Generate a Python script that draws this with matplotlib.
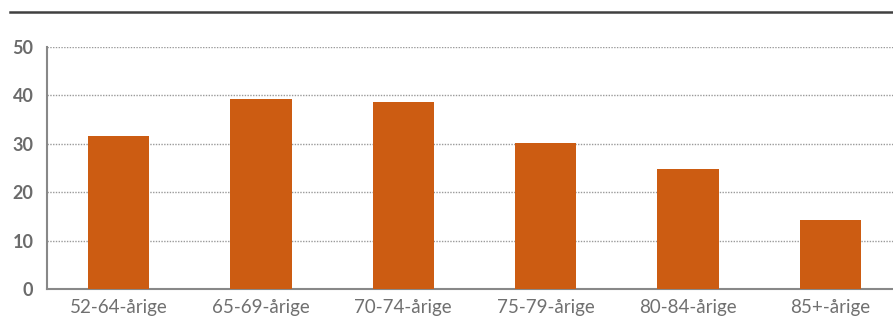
import matplotlib.pyplot as plt
from matplotlib.lines import Line2D
import numpy as np

categories = ['52-64-årige', '65-69-årige', '70-74-årige', '75-79-årige', '80-84-årige', '85+-årige']
values = [31.6, 39.3, 38.6, 30.2, 24.8, 14.3]
yticks = [0, 10, 20, 30, 40, 50]

plt.rcParams['font.family'] = ['Lato', 'DejaVu Sans']

fig = plt.figure(figsize=(8.93, 3.22), dpi=100)
W, H = 893, 322
# axes right edge runs slightly past the figure, as in the original
ax = fig.add_axes([47.3 / W, (H - 289) / H, 854.4 / W, 242 / H])

x = np.arange(len(categories))
ax.bar(x, values, width=0.43, color='#cc5c12', zorder=3)

ax.set_xlim(-0.5, len(categories) - 0.5)
ax.set_ylim(0, 50)
ax.set_yticks(yticks)
ax.set_yticklabels([str(t) for t in yticks], fontsize=13, fontweight='bold', color='#6b6b6b')
ax.set_xticks(x)
ax.set_xticklabels(categories, fontsize=13.5, color='#707070')
ax.tick_params(axis='both', length=0)
ax.tick_params(axis='y', pad=10)
ax.tick_params(axis='x', pad=7)

ax.grid(axis='y', linestyle=(0, (1, 1)), color='#9a9a9a', linewidth=1, zorder=0)
for side in ['top', 'right']:
    ax.spines[side].set_visible(False)
for side in ['left', 'bottom']:
    ax.spines[side].set_color('#888888')
    ax.spines[side].set_linewidth(1.5)

# rule across the top
fig.add_artist(Line2D([10 / W, 1.0], [(H - 12) / H, (H - 12) / H],
                      color='#404040', linewidth=1.8))

fig.savefig('out.png', dpi=100)
